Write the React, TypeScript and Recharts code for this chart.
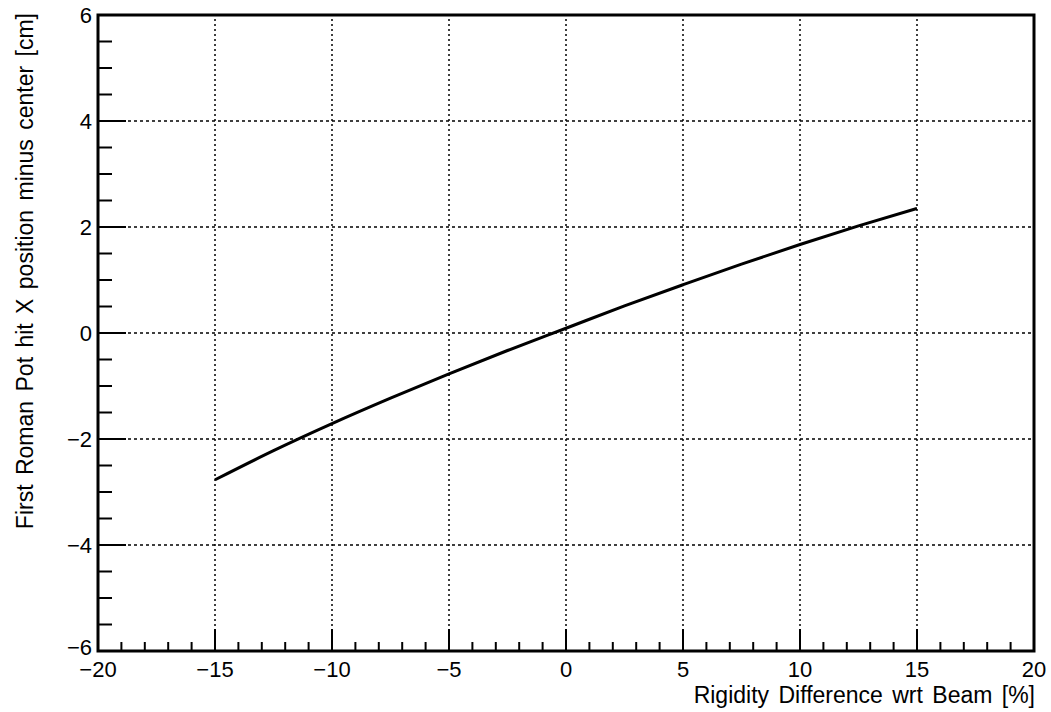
import { Label, Line, LineChart, ReferenceArea, ReferenceLine, XAxis, YAxis } from "recharts"

// rigidity difference [%]
const rigidity = [-15, -12.5, -10, -7.5, -5, -2.5, 0, 2.5, 5, 7.5, 10, 12.5, 15]
// first roman pot hit X minus center [cm]
const hitX = [-2.77, -2.22, -1.71, -1.23, -0.77, -0.33, 0.09, 0.51, 0.91, 1.3, 1.67, 2.02, 2.35]

const xTicks = Array.from({ length: 41 }, (_, i) => i - 20)
const yTicks = Array.from({ length: 25 }, (_, i) => i * 0.5 - 6)
const xGrid = [-15, -10, -5, 0, 5, 10, 15]
const yGrid = [-4, -2, 0, 2, 4]

const data = rigidity.map((r, i) => ({ r, x: hitX[i] }))

const FONT = "'Liberation Sans', Arial, Helvetica, sans-serif"
const fmt = (v: number) => (v < 0 ? "\u2212" + Math.abs(v) : String(v))

function XTick(props: any) {
  const { x, y, payload } = props
  const major = payload.value % 5 === 0
  return (
    <g>
      <line x1={x} y1={y} x2={x} y2={y - (major ? 22 : 9)} stroke="#000" strokeWidth={2} />
      {major && (
        <text x={x} y={y + 26} textAnchor="middle" fontSize={22} fontFamily={FONT} fill="#000">
          {fmt(payload.value)}
        </text>
      )}
    </g>
  )
}

function YTick(props: any) {
  const { x, y, payload } = props
  const major = payload.value % 2 === 0
  // the bottom label sits a little higher, as in ROOT
  const dy = payload.value === -6 ? 4 : 8
  return (
    <g>
      <line x1={x} y1={y} x2={x + (major ? 28 : 14)} y2={y} stroke="#000" strokeWidth={2} />
      {major && (
        <text x={x - 6} y={y + dy} textAnchor="end" fontSize={22} fontFamily={FONT} fill="#000">
          {fmt(payload.value)}
        </text>
      )}
    </g>
  )
}

function XTitle(props: any) {
  const vb = props.viewBox
  return (
    <text x={vb.x + vb.width + 1} y={703} textAnchor="end" fontSize={23} wordSpacing={3} fontFamily={FONT} fill="#000">
      Rigidity Difference wrt Beam [%]
    </text>
  )
}

function YTitle(props: any) {
  const vb = props.viewBox
  const tx = vb.x + 33
  const ty = vb.y - 2
  return (
    <text x={tx} y={ty} transform={`rotate(-90, ${tx}, ${ty})`} textAnchor="end" fontSize={23} wordSpacing={3} fontFamily={FONT} fill="#000">
      First Roman Pot hit X position minus center [cm]
    </text>
  )
}

export default function App() {
  return (
    <div style={{ position: "absolute", left: 0, top: 0, background: "#fff" }}>
      <LineChart width={1051} height={712} data={data} margin={{ top: 15, right: 17, bottom: 0, left: 0 }}>
        <XAxis
          dataKey="r"
          type="number"
          domain={[-20, 20]}
          ticks={xTicks}
          interval={0}
          axisLine={false}
          tickLine={false}
          tickSize={0}
          tickMargin={0}
          height={61}
          tick={<XTick />}
        >
          <Label content={<XTitle />} />
        </XAxis>
        <YAxis
          type="number"
          domain={[-6, 6]}
          ticks={yTicks}
          interval={0}
          axisLine={false}
          tickLine={false}
          tickSize={0}
          tickMargin={0}
          width={98}
          tick={<YTick />}
          label={<YTitle />}
        />
        {xGrid.map((v) => (
          <ReferenceLine key={"x" + v} x={v} stroke="#000" strokeWidth={1.5} strokeDasharray="2 3" />
        ))}
        {yGrid.map((v) => (
          <ReferenceLine key={"y" + v} y={v} stroke="#000" strokeWidth={1.5} strokeDasharray="3 3" />
        ))}
        <ReferenceArea x1={-20} x2={20} y1={-6} y2={6} fill="none" stroke="#000" strokeWidth={3} />
        <Line dataKey="x" type="monotone" stroke="#000" strokeWidth={3} dot={false} isAnimationActive={false} />
      </LineChart>
    </div>
  )
}
